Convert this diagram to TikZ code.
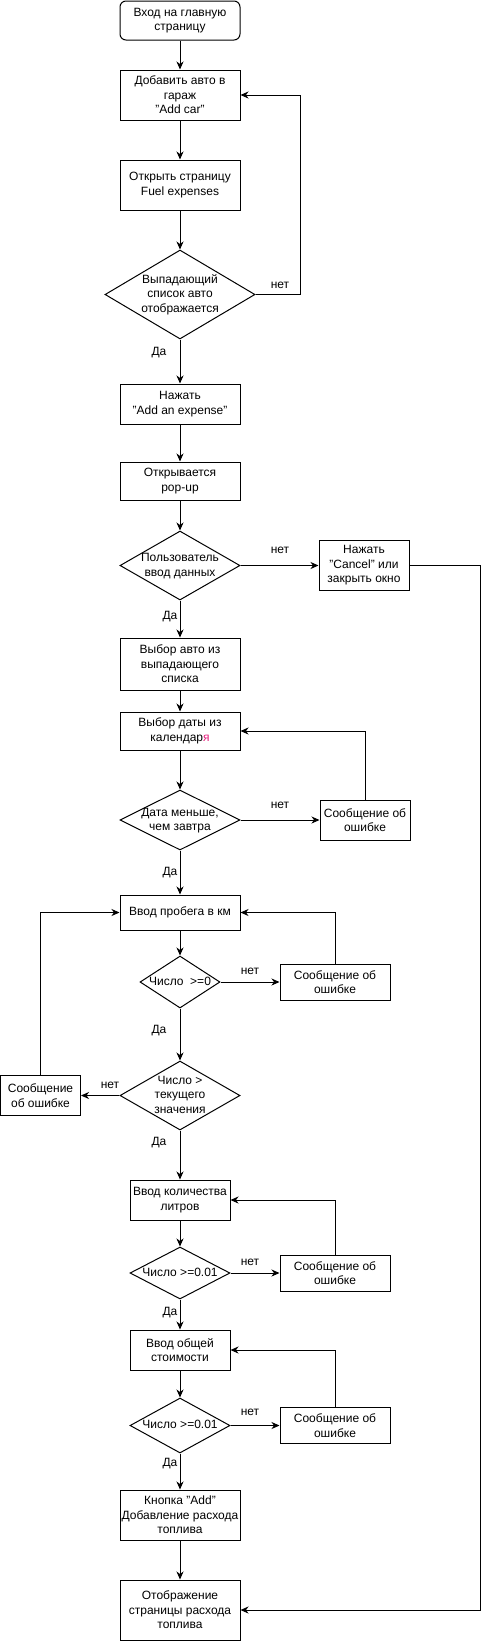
\documentclass[tikz,border=0pt]{standalone}
\usepackage{fontspec}
\setmainfont{Liberation Sans}
\definecolor{yapink}{RGB}{230,30,125}
\usetikzlibrary{arrows.meta}
\usetikzlibrary{shapes.geometric}
\newcommand{\dtext}[1]{\raisebox{-3.5pt}[0pt][0pt]{\makebox[0pt]{\begin{tabular}{@{}c@{}}#1\end{tabular}}}}

\begin{document}
\begin{tikzpicture}[x=1pt,y=-1pt,line width=1pt,
	every node/.style={font=\fontsize{12}{14.5}\selectfont},
	box/.style n args={2}{draw,rectangle,align=center,inner sep=1pt,
		minimum width=#1pt,minimum height=#2pt},
	dec/.style n args={2}{draw,diamond,inner sep=0pt,
		minimum width=#1pt,minimum height=#2pt},
	lbl/.style={inner sep=0pt},
	arr/.style={-{Stealth[length=8pt,width=7pt,inset=2.5pt]}}]
	\useasboundingbox (0,0) rectangle (489,1641);
	
	\node[box={120}{39},rounded corners=6pt] (start) at (180,20.5) {Вход на главную\\страницу};
	\node[box={120}{50}] (garage) at (180,95) {Добавить авто в\\гараж\\"Add car"};
	\node[box={120}{50}] (fuel) at (180,185) {Открыть страницу\\Fuel expenses};
	\node[dec={150}{89}] (d1) at (180,294.5) {\dtext{Выпадающий\\список авто\\отображается}};
	\node[box={120}{40}] (press) at (180,404) {Нажать\\"Add an expense"};
	\node[box={120}{38}] (popup) at (180,481) {Открывается\\pop-up};
	\node[dec={120}{69}] (d2) at (180,565.5) {\dtext{Пользователь\\ввод данных}};
	\node[box={90}{50}] (cancel) at (364,565.5) {Нажать\\"Cancel" или\\закрыть окно};
	\node[box={120}{52}] (car) at (180,664) {Выбор авто из\\выпадающего\\списка};
	\node[box={120}{38}] (date) at (180,731) {Выбор даты из\\календар{\color{yapink}я}};
	\node[dec={120}{60}] (d3) at (180,820) {\dtext{Дата меньше,\\чем завтра}};
	\node[box={90}{40}] (msg2) at (365,820) {Сообщение об\\ошибке};
	
	\node[box={120}{35}] (km) at (180,912.5) {Ввод пробега в км};
	\node[dec={80}{52}] (d4) at (180,982) {\dtext{Число~~>=0}};
	\node[box={110}{36}] (msg3) at (335,982) {Сообщение об\\ошибке};
	\node[dec={120}{69}] (d5) at (180,1095.5) {\dtext{Число >\\текущего\\значения}};
	\node[box={80}{40}] (msgL) at (40.5,1095.5) {Сообщение\\об ошибке};
	\node[box={100}{40}] (liters) at (180,1200) {Ввод количества\\литров};
	\node[dec={100}{52}] (d6) at (180,1273) {\dtext{Число >=0.01}};
	\node[box={110}{36}] (msg4) at (335,1273) {Сообщение об\\ошибке};
	\node[box={100}{40}] (cost) at (180,1350) {Ввод общей\\стоимости};
	\node[dec={100}{55}] (d7) at (180,1425.5) {\dtext{Число >=0.01}};
	\node[box={110}{36}] (msg5) at (335,1425.5) {Сообщение об\\ошибке};
	\node[box={120}{50}] (add) at (180,1515) {Кнопка "Add"\\Добавление расхода\\топлива};
	\node[box={120}{60}] (final) at (180,1610) {Отображение\\страницы расхода\\топлива};
	
	\node[lbl] (no1) at (280,285) {нет};
	\node[lbl] (yes1) at (159,353) {Да};
	\node[lbl] (no2) at (280,550) {нет};
	\node[lbl] (yes2) at (170,617) {Да};
	\node[lbl] (no3) at (280,805) {нет};
	\node[lbl] (yes3) at (170,873) {Да};
	\node[lbl] (no4) at (250,971) {нет};
	\node[lbl] (yes4) at (159,1031) {Да};
	\node[lbl] (no5) at (110,1085) {нет};
	\node[lbl] (yes5) at (159,1143) {Да};
	\node[lbl] (no6) at (250,1262) {нет};
	\node[lbl] (yes6) at (170,1313) {Да};
	\node[lbl] (no7) at (250,1412) {нет};
	\node[lbl] (yes7) at (170,1464) {Да};
	
	\coordinate (back1) at (300,294.5);
	\coordinate (rail) at (480,565.5);
	
	\draw[arr] (start)--(garage);
	\draw[arr] (garage)--(fuel);
	\draw[arr] (fuel)--(d1);
	\draw[arr] (d1.east)--(back1)|-(garage.east);
	\draw[arr] (d1)--(press);
	\draw[arr] (press)--(popup);
	\draw[arr] (popup)--(d2);
	\draw[arr] (d2)--(cancel);
	\draw[arr] (cancel.east)--(rail)|-(final.east);
	\draw[arr] (d2)--(car);
	\draw[arr] (car)--(date);
	\draw[arr] (date)--(d3);
	\draw[arr] (d3)--(msg2);
	\draw[arr] (msg2.north)|-(date.east);
	\draw[arr] (d3)--(km);
	
	\draw[arr] (km)--(d4);
	\draw[arr] (d4)--(msg3);
	\draw[arr] (msg3.north)|-(km.east);
	\draw[arr] (d4)--(d5);
	\draw[arr] (d5)--(msgL);
	\draw[arr] (msgL.north)|-(km.west);
	\draw[arr] (d5)--(liters);
	\draw[arr] (liters)--(d6);
	\draw[arr] (d6)--(msg4);
	\draw[arr] (msg4.north)|-(liters.east);
	\draw[arr] (d6)--(cost);
	\draw[arr] (cost)--(d7);
	\draw[arr] (d7)--(msg5);
	\draw[arr] (msg5.north)|-(cost.east);
	\draw[arr] (d7)--(add);
	\draw[arr] (add)--(final);
\end{tikzpicture}
\end{document}
